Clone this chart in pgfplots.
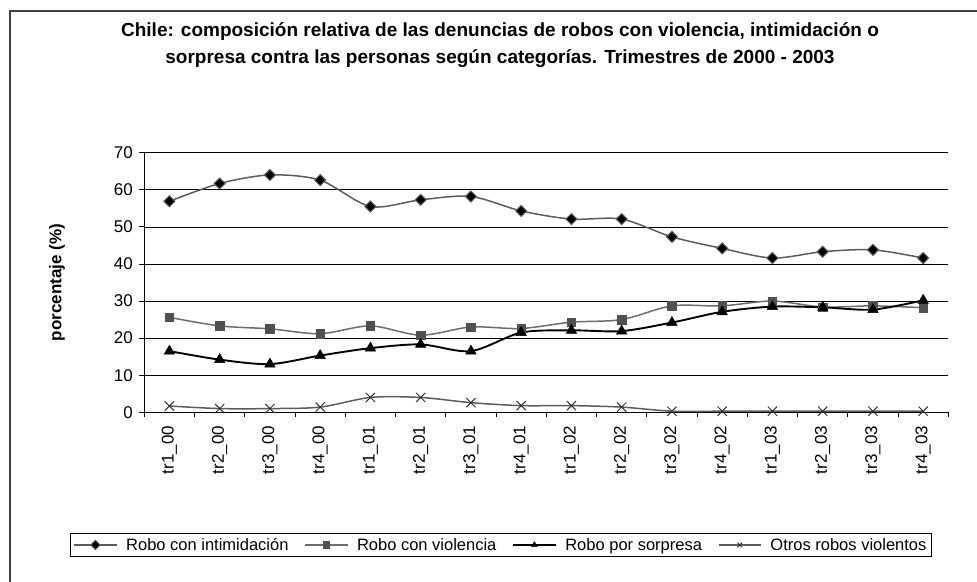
\documentclass[border=0pt]{standalone}
\usepackage{pgfplots}
\pgfplotsset{compat=1.18}
\usepackage{pgfplotstable}
\usepackage{fontspec}
\setmainfont{Liberation Sans}
\definecolor{frame}{HTML}{404040}
\definecolor{lgray}{HTML}{5C5C5C}
\definecolor{sqfill}{HTML}{505050}

% trimestres 2000-2003, porcentajes
\pgfplotstableread{
x  intim  viol  sorp  otros
0  56.9   25.6  16.5  1.7
1  61.7   23.3  14.2  1.0
2  64.0   22.5  13.0  1.0
3  62.6   21.2  15.3  1.4
4  55.5   23.3  17.3  4.0
5  57.3   20.8  18.3  4.0
6  58.2   23.0  16.5  2.6
7  54.3   22.6  21.5  1.8
8  52.1   24.3  22.1  1.8
9  52.1   25.0  21.9  1.4
10 47.3   28.7  24.2  0.3
11 44.2   28.7  27.1  0.3
12 41.6   30.0  28.5  0.3
13 43.3   28.4  28.3  0.3
14 43.8   28.7  27.7  0.3
15 41.6   28.2  30.2  0.3
}\datos

\begin{document}
\begin{tikzpicture}[x=1pt,y=1pt]
\useasboundingbox (0,0) rectangle (977,581);
\draw[frame,line width=1.6pt] (10,-5) -- (10,570) -- (985,570);
\begin{axis}[
  at={(144.3pt,168.7pt)}, anchor=south west,
  scale only axis, width=804pt, height=259.6pt,
  xmin=-0.5, xmax=15.5, ymin=0, ymax=70,
  ytick={0,10,...,70},
  xtick={0,...,15},
  xticklabels={tr1\_00,tr2\_00,tr3\_00,tr4\_00,tr1\_01,tr2\_01,tr3\_01,tr4\_01,
               tr1\_02,tr2\_02,tr3\_02,tr4\_02,tr1\_03,tr2\_03,tr3\_03,tr4\_03},
  minor xtick={-0.5,0.5,...,15.5},
  major x tick style={draw=none},
  axis lines*=left, axis line style={black,line width=0.9pt},
  tick align=outside, major tick length=5pt, minor tick length=5pt,
  tick style={black,line width=0.8pt},
  ymajorgrids, grid style={black,line width=0.7pt},
  font=\fontsize{17}{20}\selectfont,
  /pgf/number format/assume math mode=true,
  xticklabel style={rotate=90,anchor=east},
  xticklabel shift=5pt, yticklabel shift=3pt,
  ylabel={\bfseries porcentaje (\%)},
  ylabel style={at={(-0.1086,0.5)},anchor=center,rotate=0},
  title={\bfseries Chile: composición relativa de las denuncias de robos con violencia, intimidación o\\
         \bfseries sorpresa contra las personas según categorías. Trimestres de 2000 - 2003},
  title style={at={(0.4424,1.390)},anchor=center,align=center,
               font=\fontsize{19}{27}\selectfont},
  legend columns=4,
  legend style={at={(0.4437,-0.511)},anchor=center,draw=black,line width=0.8pt,
                font=\fontsize{16.5}{19}\selectfont,inner sep=3pt,
                /tikz/every odd column/.append style={column sep=7pt},
                /tikz/every even column/.append style={column sep=14pt}},
  legend image code/.code={%
    \draw[#1,mark repeat=2,mark phase=2,mark size=3.3pt]
      plot coordinates {(0pt,0pt) (21pt,0pt) (42pt,0pt)};},
  clip=false,
]
\addplot[smooth,tension=0.5,lgray,line width=1.5pt,
  mark=square*,mark size=3.9pt,mark options={rotate=45,fill=black,draw=lgray,line width=1pt}]
  table[x=x,y=intim] {\datos};
\addplot[smooth,tension=0.5,color=lgray!90,line width=1.5pt,
  mark=square*,mark size=4.2pt,mark options={fill=sqfill,draw=sqfill,line width=0.5pt}]
  table[x=x,y=viol] {\datos};
\addplot[smooth,tension=0.5,black,line width=1.9pt,
  mark=triangle*,mark size=6pt,mark options={fill=black,draw=black,line width=0.5pt}]
  table[x=x,y=sorp] {\datos};
\addplot[smooth,tension=0.5,lgray,line width=1.5pt,
  mark=x,mark size=6.5pt,mark options={draw=black!80,line width=1pt}]
  table[x=x,y=otros] {\datos};
\legend{Robo con intimidación,Robo con violencia,Robo por sorpresa,Otros robos violentos}
\end{axis}
\end{tikzpicture}
\end{document}
